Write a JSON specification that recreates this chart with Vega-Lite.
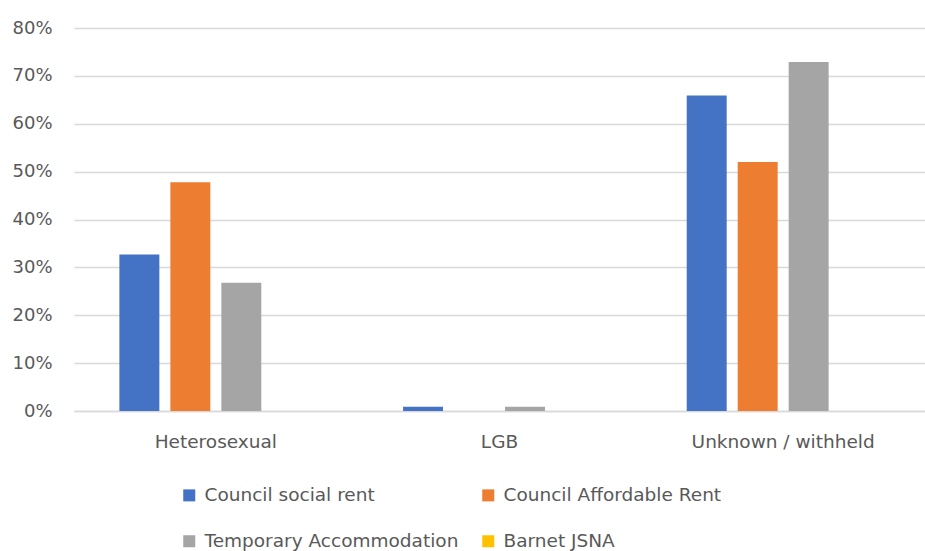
{
  "$schema": "https://vega.github.io/schema/vega-lite/v6.json",
  "autosize": "none",
  "width": 851,
  "height": 383,
  "padding": {"left": 74, "top": 28, "right": 0, "bottom": 140},
  "background": "white",
  "data": {
    "values": [
      {"group": "Heterosexual", "series": "Council social rent", "value": 0.327},
      {"group": "Heterosexual", "series": "Council Affordable Rent", "value": 0.478},
      {"group": "Heterosexual", "series": "Temporary Accommodation", "value": 0.268},
      {"group": "Heterosexual", "series": "Barnet JSNA", "value": 0},
      {"group": "LGB", "series": "Council social rent", "value": 0.009},
      {"group": "LGB", "series": "Council Affordable Rent", "value": 0},
      {"group": "LGB", "series": "Temporary Accommodation", "value": 0.009},
      {"group": "LGB", "series": "Barnet JSNA", "value": 0},
      {"group": "Unknown / withheld", "series": "Council social rent", "value": 0.659},
      {"group": "Unknown / withheld", "series": "Council Affordable Rent", "value": 0.52},
      {"group": "Unknown / withheld", "series": "Temporary Accommodation", "value": 0.729},
      {"group": "Unknown / withheld", "series": "Barnet JSNA", "value": 0}
    ]
  },
  "mark": {"type": "bar"},
  "encoding": {
    "x": {
      "field": "group", "type": "nominal", "sort": null,
      "scale": {"paddingInner": 0.32, "paddingOuter": 0.16},
      "axis": {"title": null, "labelAngle": 0, "ticks": false, "domain": true, "domainColor": "#d9d9d9", "domainWidth": 1.3, "labelPadding": 21, "labelFontSize": 18.5, "labelLimit": 400, "labelColor": "#595959", "labelFont": "DejaVu Sans"}
    },
    "xOffset": {
      "field": "series", "type": "nominal",
      "sort": ["Council social rent", "Council Affordable Rent", "Temporary Accommodation", "Barnet JSNA"],
      "scale": {"paddingInner": 0.216, "paddingOuter": 0}
    },
    "y": {
      "field": "value", "type": "quantitative",
      "scale": {"domain": [0, 0.8], "nice": false},
      "axis": {"title": null, "format": ".0%", "values": [0, 0.1, 0.2, 0.3, 0.4, 0.5, 0.6, 0.7, 0.8], "ticks": false, "domain": false, "gridColor": "#d9d9d9", "gridWidth": 1.3, "labelPadding": 22, "labelFontSize": 18, "labelColor": "#595959", "labelFont": "DejaVu Sans"}
    },
    "color": {
      "field": "series", "type": "nominal",
      "sort": ["Council social rent", "Council Affordable Rent", "Temporary Accommodation", "Barnet JSNA"],
      "scale": {"domain": ["Council social rent", "Council Affordable Rent", "Temporary Accommodation", "Barnet JSNA"], "range": ["#4472C4", "#ED7D31", "#A5A5A5", "#FFC000"]},
      "legend": {"title": null, "orient": "none", "legendX": 106, "legendY": 458, "columns": 2, "direction": "horizontal", "symbolType": "square", "symbolSize": 144, "symbolStrokeWidth": 0, "labelFontSize": 18.5, "labelColor": "#595959", "labelFont": "DejaVu Sans", "labelLimit": 400, "columnPadding": 20, "rowPadding": 27, "labelOffset": 6}
    }
  },
  "config": {"view": {"stroke": null}}
}
